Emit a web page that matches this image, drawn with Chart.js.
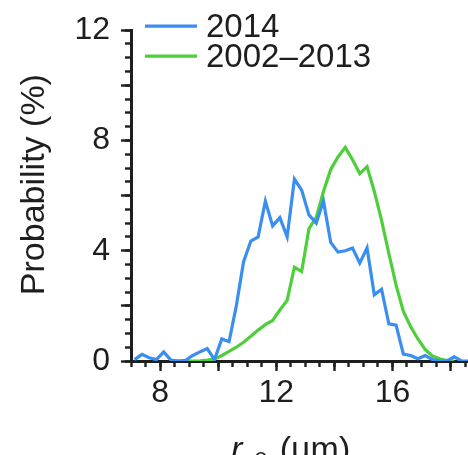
<!DOCTYPE html>
<html>
<head>
<meta charset="utf-8">
<script src="https://cdn.jsdelivr.net/npm/chart.js@4.4.1/dist/chart.umd.min.js"></script>
<style>
  html, body { margin: 0; padding: 0; background: #fff; }
  #wrap { width: 468px; height: 455px; }
</style>
</head>
<body>
<div id="wrap"><canvas id="chart" width="468" height="455"></canvas></div>
<script>
// histogram bin centres, r_e in µm
const radii = [
  7.125, 7.375, 7.625, 7.875, 8.125, 8.375, 8.625, 8.875, 9.125, 9.375,
  9.625, 9.875, 10.125, 10.375, 10.625, 10.875, 11.125, 11.375, 11.625, 11.875,
  12.125, 12.375, 12.625, 12.875, 13.125, 13.375, 13.625, 13.875, 14.125, 14.375,
  14.625, 14.875, 15.125, 15.375, 15.625, 15.875, 16.125, 16.375, 16.625, 16.875,
  17.125, 17.375, 17.625, 17.875, 18.125, 18.375, 18.625
];

// probability (%) per bin
const prob2014 = [
  0.05, 0.24, 0.12, 0.05, 0.33, 0.03, 0, 0.02, 0.2, 0.33,
  0.45, 0.05, 0.8, 0.7, 2.0, 3.6, 4.35, 4.5, 5.8, 4.9,
  5.2, 4.5, 6.6, 6.2, 5.3, 5.0, 5.8, 4.3, 3.95, 4.0,
  4.1, 3.55, 4.1, 2.4, 2.6, 1.35, 1.3, 0.25, 0.2, 0.08,
  0.2, 0.05, 0, 0, 0.15, 0, 0
];
const prob2002to2013 = [
  null, null, null, null, null, 0, 0, 0, 0, 0.01,
  0.03, 0.07, 0.2, 0.35, 0.5, 0.68, 0.9, 1.12, 1.32, 1.47,
  1.85, 2.2, 3.4, 3.25, 4.8, 5.2, 6.15, 6.95, 7.4, 7.75,
  7.3, 6.8, 7.05, 6.15, 5.1, 3.9, 2.75, 1.8, 1.25, 0.8,
  0.42, 0.18, 0.08, 0.02, 0, null, null
];

const seriesLabels = ['2014', '2002–2013'];
const seriesColors = ['#3a8ef0', '#4dce3a'];

const xMajorTicks = [8, 10, 12, 14, 16, 18];
const xTickLabels = [8, 12, 16];
const yMajorTicks = [0, 2, 4, 6, 8, 10, 12];
const yTickLabels = [0, 4, 8, 12];

const FONT = '"Liberation Sans", Arial, Helvetica, sans-serif';
const INK = '#1e1e1e';

Chart.defaults.font.family = FONT;
Chart.defaults.color = INK;

const toPoints = (values) => radii.map((r, i) => ({ x: r, y: values[i] }));

// legend + axis titles, drawn inside/around the plot like the figure
const figureText = {
  id: 'figureText',
  afterDraw(chart) {
    const { ctx, chartArea } = chart;
    ctx.save();
    ctx.fillStyle = INK;

    // legend in the top-left corner of the plot
    ctx.font = '33px ' + FONT;
    ctx.textAlign = 'left';
    ctx.textBaseline = 'alphabetic';
    chart.data.datasets.forEach((ds, i) => {
      const y = chartArea.top - 4 + i * 30;
      ctx.strokeStyle = ds.borderColor;
      ctx.lineWidth = 3.2;
      ctx.beginPath();
      ctx.moveTo(chartArea.left + 14, y);
      ctx.lineTo(chartArea.left + 66, y);
      ctx.stroke();
      ctx.fillText(ds.label, chartArea.left + 75, y + 11);
    });

    // y title
    ctx.save();
    ctx.font = '34px ' + FONT;
    ctx.translate(35, (chartArea.top + chartArea.bottom) / 2 - 11);
    ctx.rotate(-Math.PI / 2);
    ctx.textAlign = 'center';
    ctx.textBaseline = 'middle';
    ctx.fillText('Probability (%)', 0, 0);
    ctx.restore();

    // x title: r_e (µm)
    const base = chartArea.bottom + 99;
    let x = 231;
    ctx.textAlign = 'left';
    ctx.font = 'italic 34px ' + FONT;
    ctx.fillText('r', x, base);
    x += ctx.measureText('r').width + 12;
    ctx.font = '24px ' + FONT;
    ctx.fillText('e', x, base + 5);
    x += ctx.measureText('e').width + 12;
    ctx.font = '34px ' + FONT;
    ctx.fillText('(\u00b5m)', x, base);

    ctx.restore();
  }
};

const tickGrid = (len) => ({
  drawOnChartArea: false,
  drawTicks: true,
  tickLength: len,
  tickWidth: 2.4,
  tickColor: INK
});

new Chart(document.getElementById('chart'), {
  type: 'line',
  data: {
    datasets: [
      {
        label: seriesLabels[0],
        data: toPoints(prob2014),
        borderColor: seriesColors[0],
        borderWidth: 3.2,
        pointRadius: 0,
        tension: 0,
        fill: false
      },
      {
        label: seriesLabels[1],
        data: toPoints(prob2002to2013),
        borderColor: seriesColors[1],
        borderWidth: 3.2,
        pointRadius: 0,
        tension: 0,
        fill: false
      }
    ]
  },
  options: {
    responsive: false,
    animation: false,
    layout: { padding: { top: 26, left: 0, right: 0, bottom: 0 } },
    plugins: {
      legend: { display: false },
      tooltip: { enabled: false }
    },
    scales: {
      x: {
        type: 'linear',
        position: 'bottom',
        min: 7,
        max: 18.6,
        afterFit: (s) => { s.height = 94; },
        afterBuildTicks: (s) => { s.ticks = xMajorTicks.map(v => ({ value: v })); },
        ticks: {
          autoSkip: false,
          maxRotation: 0,
          padding: 3,
          font: { size: 32 },
          callback: (v) => xTickLabels.includes(v) ? String(v) : ''
        },
        grid: tickGrid(10),
        border: { color: INK, width: 3 }
      },
      xMinor: {
        axis: 'x',
        type: 'linear',
        position: { y: 0 },
        min: 7,
        max: 18.6,
        ticks: { display: false, stepSize: 0.5, includeBounds: false },
        grid: tickGrid(6),
        border: { display: false }
      },
      y: {
        type: 'linear',
        position: 'left',
        min: 0,
        max: 12,
        afterFit: (s) => { s.width = 131; },
        afterBuildTicks: (s) => { s.ticks = yMajorTicks.map(v => ({ value: v })); },
        ticks: {
          autoSkip: false,
          padding: 11,
          font: { size: 32 },
          callback: (v) => yTickLabels.includes(v) ? String(v) : ''
        },
        grid: tickGrid(10),
        border: { color: INK, width: 3 }
      },
      yMinor: {
        axis: 'y',
        type: 'linear',
        position: { x: 7 },
        min: 0,
        max: 12,
        ticks: { display: false, stepSize: 0.5, includeBounds: false },
        grid: tickGrid(6),
        border: { display: false }
      }
    }
  },
  plugins: [figureText]
});
</script>
</body>
</html>
